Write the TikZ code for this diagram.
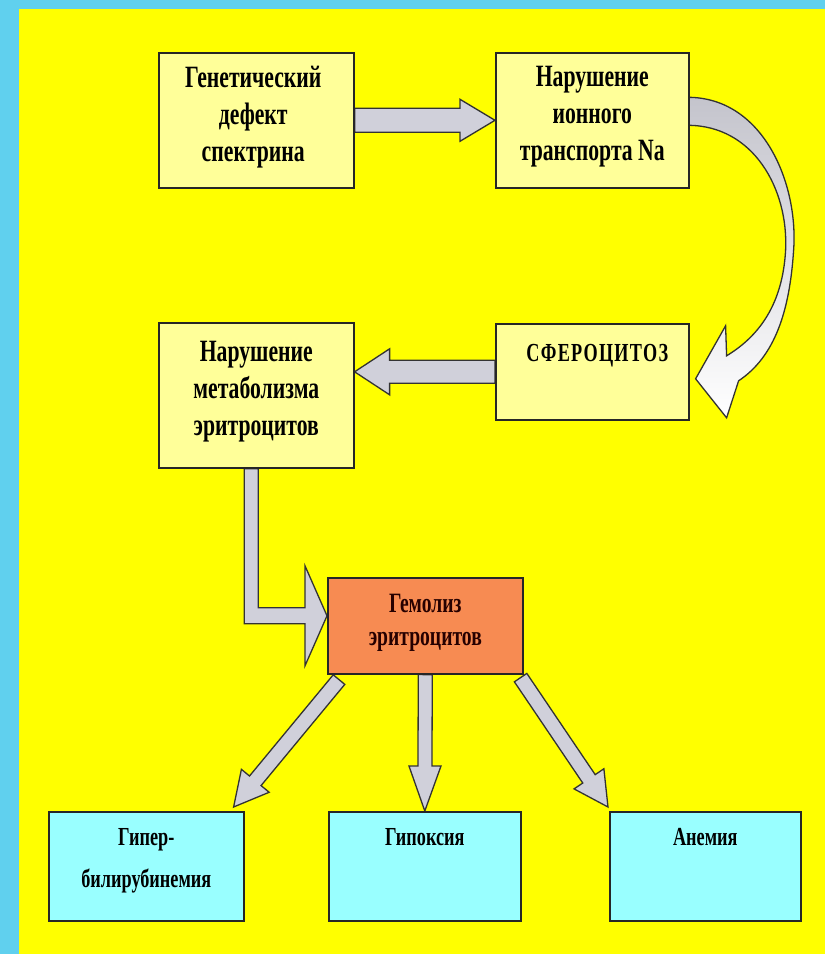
\documentclass[tikz,border=0pt]{standalone}
\usepackage{fontspec}
\setmainfont{Liberation Serif}[FakeStretch=0.7]
\usetikzlibrary{calc}
\definecolor{bgblue}{RGB}{96,208,238}
\definecolor{bgyellow}{RGB}{255,255,0}
\definecolor{boxyellow}{RGB}{255,255,153}
\definecolor{boxorange}{RGB}{247,139,82}
\definecolor{boxcyan}{RGB}{153,255,255}
\definecolor{arrowgrey}{RGB}{208,208,218}
\pgfdeclarelayer{back}
\pgfdeclarelayer{mid}
\pgfsetlayers{back,mid,main}
\newcommand\blockarr[5]{%
  \path[barrow] let \p1=(#1),\p2=(#2),\n1={atan2(\y2-\y1,\x2-\x1)},\n2={veclen(\x2-\x1,\y2-\y1)} in
    ([shift={(\p1)},rotate=\n1]0,#3) -- ([shift={(\p1)},rotate=\n1]{\n2-#5},#3)
    -- ([shift={(\p1)},rotate=\n1]{\n2-#5},#4) -- ([shift={(\p1)},rotate=\n1]{\n2},0)
    -- ([shift={(\p1)},rotate=\n1]{\n2-#5},-#4) -- ([shift={(\p1)},rotate=\n1]{\n2-#5},-#3)
    -- ([shift={(\p1)},rotate=\n1]0,-#3) -- cycle;}
\begin{document}
\begin{tikzpicture}[x=1pt,y=-1pt,
  box/.style={draw=black!85,line width=1.6pt,inner sep=0,anchor=north west},
  ybox/.style={box,fill=boxyellow},
  txt/.style={anchor=north,align=center,inner sep=0,font=\bfseries\fontsize{31}{37}\selectfont},
  smalltxt/.style={anchor=north,align=center,inner sep=0,font=\bfseries\fontsize{26}{42}\selectfont},
  barrow/.style={draw=black!80,line width=1.3pt,fill=arrowgrey,line join=miter},
  curvedarrow/.style={draw=black!80,line width=1.3pt,top color=arrowgrey!85!gray,bottom color=white,line join=miter}]
\useasboundingbox (0,0) rectangle (825,954);
\begin{pgfonlayer}{back}
\fill[bgblue] (0,0) rectangle (825,954);
\fill[bgyellow] (19,9) rectangle (825,954);
\end{pgfonlayer}

\node[ybox,minimum width=195,minimum height=135] (b1) at (158,52) {};
\node[ybox,minimum width=193,minimum height=135] (b2) at (495,52) {};
\node[ybox,minimum width=195,minimum height=145] (b3) at (158,322) {};
\node[ybox,minimum width=193,minimum height=96] (b4) at (495,323) {};
\node[box,fill=boxorange,minimum width=195,minimum height=96] (b5) at (327,577) {};
\node[box,fill=boxcyan,minimum width=195,minimum height=109] (b6) at (48,811) {};
\node[box,fill=boxcyan,minimum width=192,minimum height=109] (b7) at (328,811) {};
\node[box,fill=boxcyan,minimum width=191,minimum height=109] (b8) at (609,811) {};

\node[txt] (t1) at ($(b1.north)+(-3,14)$) {Генетический\\дефект\\спектрина};
\node[txt] (t2) at ($(b2.north)+(0,14)$) {Нарушение\\ионного\\транспорта Na};
\node[txt] (t3) at ($(b3.north)+(0,19)$) {Нарушение\\метаболизма\\эритроцитов};
\node[txt,font=\bfseries\fontsize{26}{30}\selectfont\addfontfeature{LetterSpace=5}] (t4) at ($(b4.north)+(5,21)$) {СФЕРОЦИТОЗ};
\node[txt,font=\bfseries\fontsize{28}{33}\selectfont,text=black!85!red] (t5) at ($(b5.north)+(0,17)$) {Гемолиз\\эритроцитов};
\node[smalltxt] (t6) at ($(b6.north)+(0,17)$) {Гипер-\\билирубинемия};
\node[smalltxt] (t7) at ($(b7.north)+(0,17)$) {Гипоксия};
\node[smalltxt] (t8) at ($(b8.north)+(0,17)$) {Анемия};

\coordinate (a2t) at (b3.east|-b4.west);
\coordinate (Lt) at ($(b5.west)+(0,-10)$);
\coordinate (Ls) at ($(b3.south)+(-5,0)$);
\coordinate (l0) at ($(b5.south west)+(12,5)$);
\coordinate (l1) at ($(b6.north east)+(-11,-4)$);
\coordinate (r0) at ($(b5.south east)+(-3,3)$);
\coordinate (r1) at ($(b8.north west)+(-1,-4)$);

\begin{pgfonlayer}{mid}
\blockarr{b1.east}{b2.west}{12}{21}{35}
\blockarr{b4.west}{a2t}{11.5}{23}{35}
\blockarr{l0}{l1}{7.5}{18}{34}
\blockarr{b5.south}{b7.north}{7}{16}{45}
\blockarr{r0}{r1}{7.5}{18}{34}
\path[barrow] ($(Ls)+(-7,0)$) |- ($(Lt)+(-22,8)$) -- ($(Lt)+(-22,50)$) -- (Lt)
  -- ($(Lt)+(-22,-50)$) -- ($(Lt)+(-22,-8)$) -| ($(Ls)+(7,0)$) -- cycle;
\path[curvedarrow] ($(b2.east)+(-2,-23)$) .. controls ($(b2.east)+(74,-23)$) and ($(b2.east)+(109,64)$) .. ($(b2.east)+(104,130)$)
  .. controls ($(b4.east)+(100,-60)$) and ($(b4.east)+(85,-15)$) .. ($(b4.east)+(49,9)$)
  -- ($(b4.east)+(37,46)$) -- ($(b4.east)+(6,7)$) -- ($(b4.east)+(36,-46)$) -- ($(b4.east)+(37,-16)$)
  .. controls ($(b4.east)+(70,-36)$) and ($(b4.east)+(93,-68)$) .. ($(b2.east)+(96,130)$)
  .. controls ($(b2.east)+(99,69)$) and ($(b2.east)+(64,5)$) .. ($(b2.east)+(-2,5)$) -- cycle;
\end{pgfonlayer}
\end{tikzpicture}
\end{document}
